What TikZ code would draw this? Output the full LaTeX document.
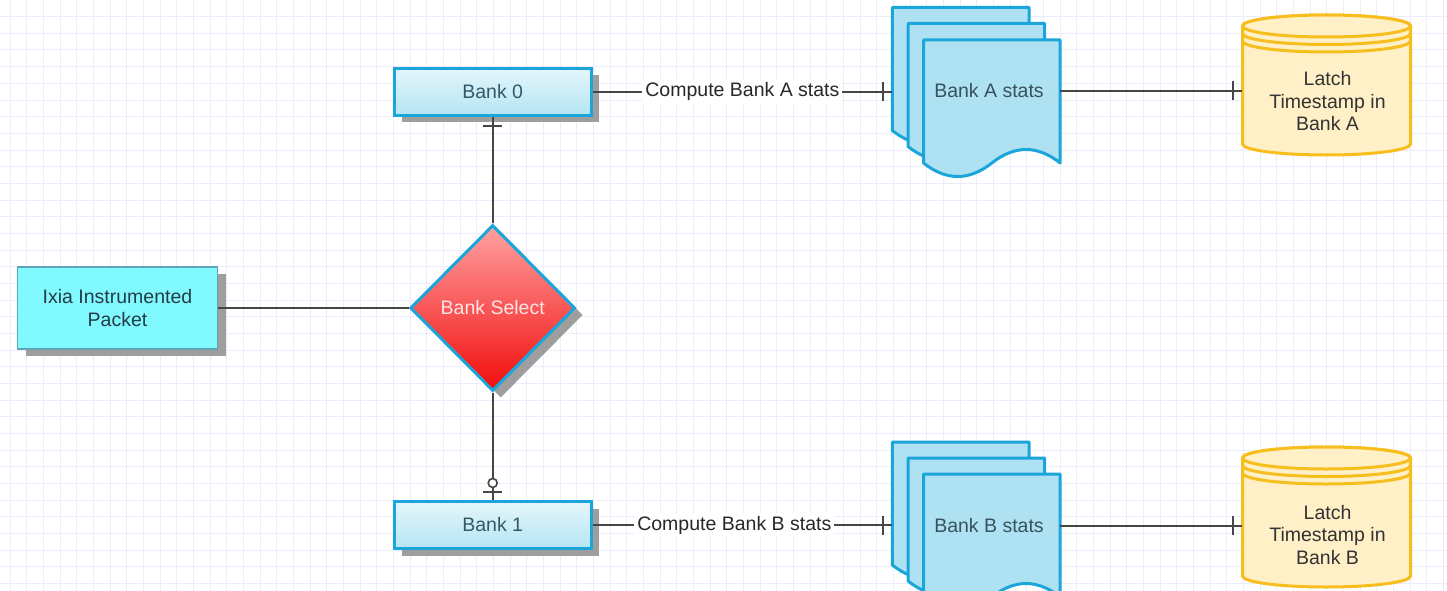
\documentclass[tikz,border=0pt]{standalone}
\usepackage{fontspec}
\setmainfont{Liberation Sans}
\usetikzlibrary{shapes.geometric,shadows,decorations.markings}
\definecolor{gridc}{RGB}{236,236,252}
\definecolor{connc}{RGB}{70,70,70}
\definecolor{bankborder}{RGB}{27,166,219}
\definecolor{banktop}{RGB}{228,246,251}
\definecolor{bankbot}{RGB}{181,229,243}
\definecolor{banktext}{RGB}{50,88,102}
\definecolor{ixiafill}{RGB}{128,249,255}
\definecolor{ixiaborder}{RGB}{95,165,185}
\definecolor{ixiatext}{RGB}{35,60,70}
\definecolor{seltop}{RGB}{255,162,162}
\definecolor{selbot}{RGB}{242,12,12}
\definecolor{seltext}{RGB}{255,228,228}
\definecolor{docfill}{RGB}{174,226,242}
\definecolor{doctext}{RGB}{55,82,92}
\definecolor{cylfill}{RGB}{255,240,200}
\definecolor{cylborder}{RGB}{247,190,30}
\definecolor{cyltext}{RGB}{51,51,51}
\definecolor{shadowc}{RGB}{158,158,158}
\definecolor{lbltext}{RGB}{40,40,40}
\tikzset{
  myshadow/.style={drop shadow={shadow xshift=8pt,shadow yshift=-7pt,fill=shadowc,opacity=1}},
  ixiabox/.style={rectangle,draw=ixiaborder,line width=1.2pt,fill=ixiafill,minimum width=200pt,minimum height=82pt,inner sep=0pt,align=center,text=ixiatext,myshadow},
  bankbox/.style={rectangle,draw=bankborder,line width=3pt,top color=banktop,bottom color=bankbot,minimum width=197pt,minimum height=47pt,inner sep=0pt,text=banktext,myshadow},
  selbox/.style={diamond,draw=bankborder,line width=3pt,top color=seltop,bottom color=selbot,minimum width=165pt,minimum height=166pt,inner sep=0pt,text=seltext,myshadow},
  docpage/.style={draw=bankborder,line width=3pt,fill=docfill,line join=round},
  cylstyle/.style={draw=cylborder,line width=3pt,fill=cylfill},
  ghost/.style={rectangle,inner sep=0pt},
  plaintext/.style={inner sep=0pt,align=center},
  conn/.style={draw=connc,line width=2pt},
  gridline/.style={draw=gridc,line width=1pt},
  lbl/.style={fill=white,inner sep=3pt,text=lbltext},
  tickend/.style={postaction={decorate,decoration={markings,
      mark=at position -9pt with {\draw[connc,line width=2pt] (0pt,-9.5pt) -- (0pt,9.5pt);}}}},
  circtickend/.style={postaction={decorate,decoration={markings,
      mark=at position -8pt with {\draw[connc,line width=2pt] (0pt,-9.5pt) -- (0pt,9.5pt);},
      mark=at position -17pt with {\draw[connc,line width=1.6pt,fill=white] (0pt,0pt) circle (4.5pt);}}}}
}
\newcommand{\docpageat}[2]{\draw[docpage,shift={(#1,#2)}] (0,0) -- (136.7,0) -- (136.7,123)
  .. controls (113.9,105) and (91.1,105) .. (68.35,123)
  .. controls (45.6,141) and (22.8,141) .. (0,123) -- cycle;}
\newcommand{\datastoreat}[1]{%
  \filldraw[cylstyle] (1242.5,#1+11) -- (1242.5,#1+129) arc (180:0:84 and 11) -- (1410.5,#1+11) arc (0:-180:84 and 11) -- cycle;
  \draw[cylstyle] (1326.5,#1+11) ellipse (84 and 11);
  \draw[draw=cylborder,line width=3pt] (1242.5,#1+18.5) arc (180:0:84 and 11);
  \draw[draw=cylborder,line width=3pt] (1242.5,#1+26) arc (180:0:84 and 11);}
\begin{document}
\begin{tikzpicture}[x=1pt,y=-1pt,font=\fontsize{19.5}{22.5}\selectfont]
\useasboundingbox (0,0) rectangle (1447,591);
\clip (0,0) rectangle (1447,591);
\fill[white] (0,0) rectangle (1447,591);
\foreach \gx in {0,...,86} {\draw[gridline] (10+\gx*16.667,0) -- (10+\gx*16.667,591);}
\foreach \gy in {0,...,35} {\draw[gridline] (0,\gy*16.667) -- (1447,\gy*16.667);}

% document stacks
\docpageat{892.3}{7.5}
\docpageat{908}{23.5}
\docpageat{923.5}{40}
\docpageat{892.3}{442}
\docpageat{908}{458}
\docpageat{923.5}{474}
\node[ghost,minimum width=136.7pt,minimum height=138pt] (docAback) at (960.65,76.5) {};
\node[ghost,minimum width=136.7pt,minimum height=138pt] (docA) at (991.85,109) {};
\node[ghost,minimum width=136.7pt,minimum height=138pt] (docBback) at (960.65,511) {};
\node[ghost,minimum width=136.7pt,minimum height=138pt] (docB) at (991.85,543) {};
\node[plaintext,text=doctext] (docAtext) at (989,91) {Bank A stats};
\node[plaintext,text=doctext] (docBtext) at (989,525.5) {Bank B stats};

% data stores
\datastoreat{15}
\datastoreat{447}
\node[ghost,minimum width=168pt,minimum height=140pt] (cylA) at (1326.5,85) {};
\node[ghost,minimum width=168pt,minimum height=140pt] (cylB) at (1326.5,517) {};
\node[plaintext,text=cyltext] (cylAtext) at (1327.5,101.5) {Latch\\Timestamp in\\Bank A};
\node[plaintext,text=cyltext] (cylBtext) at (1327.5,535) {Latch\\Timestamp in\\Bank B};

% main nodes
\node[ixiabox] (ixia) at (117.5,308) {Ixia Instrumented\\Packet};
\node[selbox] (sel) at (492.7,308) {Bank Select};
\node[bankbox] (bank0) at (492.7,91.8) {Bank 0};
\node[bankbox] (bank1) at (492.7,525) {Bank 1};

% connectors
\draw[conn] (ixia) -- (sel);
\draw[conn,tickend] (sel) -- (bank0);
\draw[conn,circtickend] (sel) -- (bank1);
\draw[conn,tickend] (bank0) -- node[lbl] {Compute Bank A stats} (bank0 -| docAback.west);
\draw[conn,tickend] (bank1) -- node[lbl,pos=0.473] {Compute Bank B stats} (bank1 -| docBback.west);
\draw[conn,tickend] (docAtext -| docA.east) -- (docAtext -| cylA.west);
\draw[conn,tickend] (docBtext -| docB.east) -- (docBtext -| cylB.west);
\end{tikzpicture}
\end{document}
